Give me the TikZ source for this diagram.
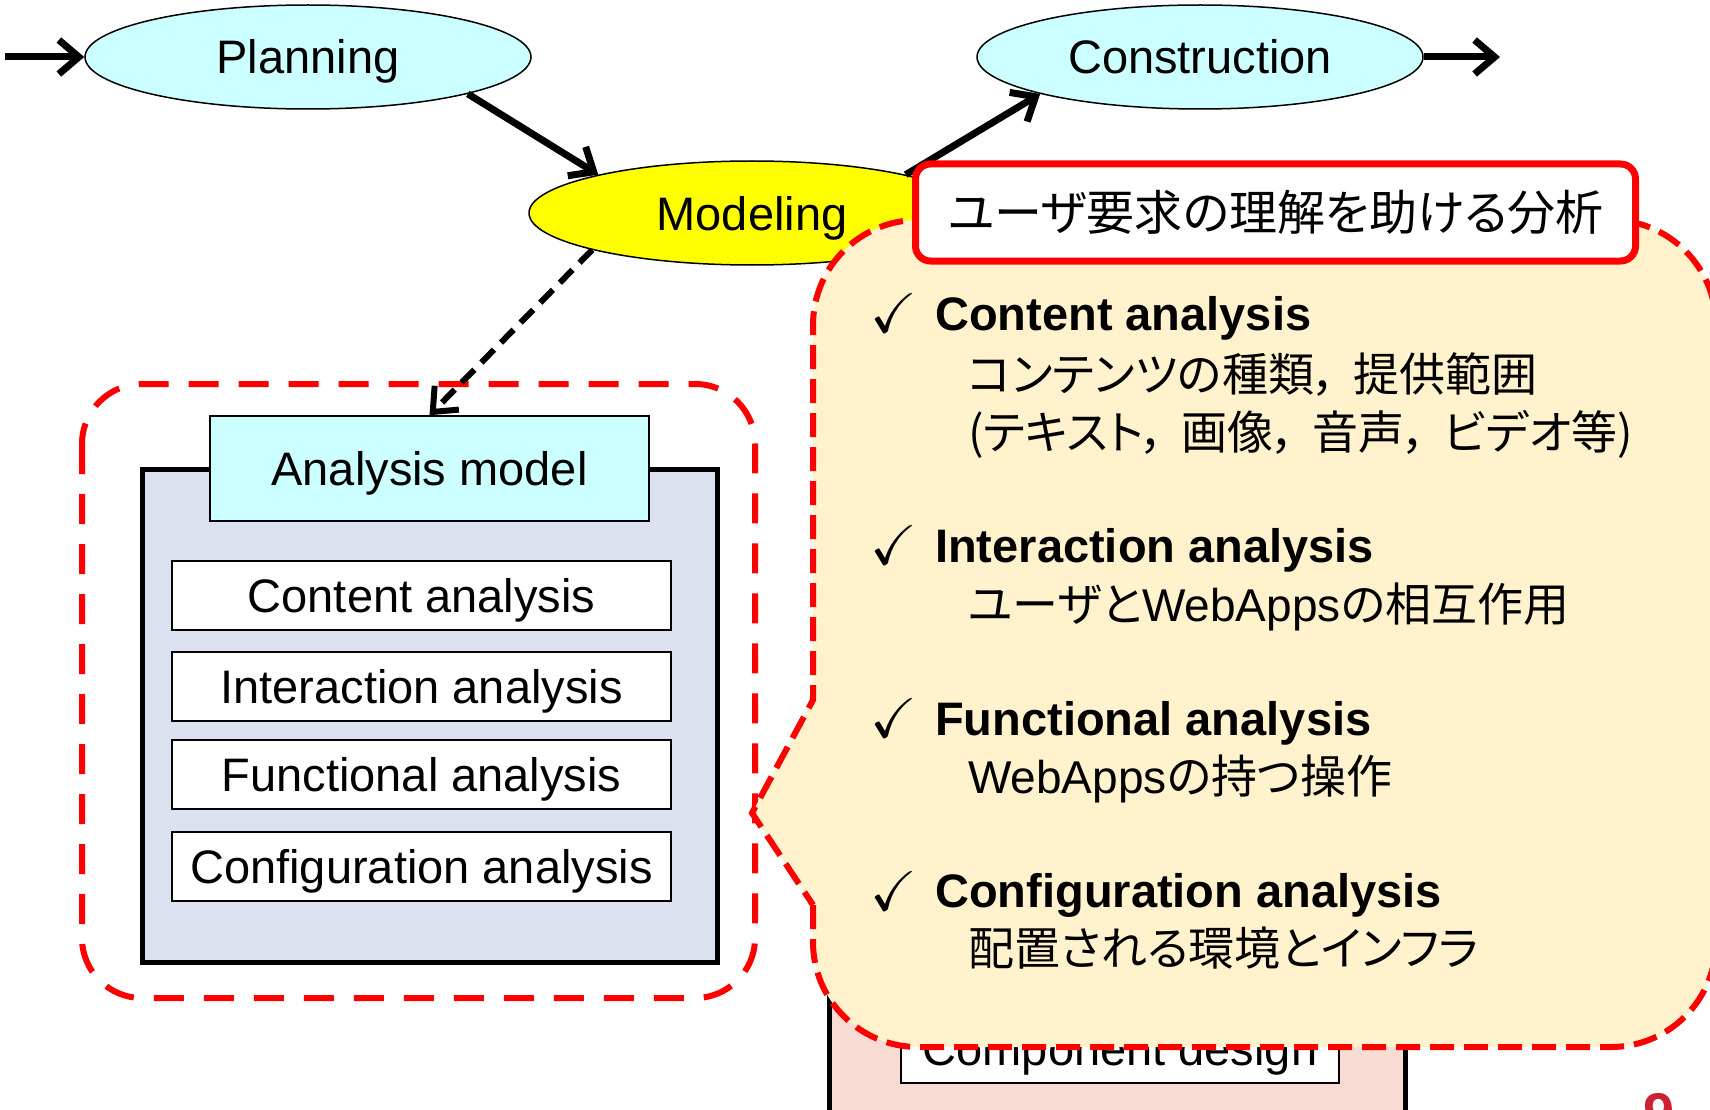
\documentclass[tikz,border=0pt]{standalone}
\usepackage{amssymb}
\usepackage{fontspec}
\setmainfont{Liberation Sans}
\newfontfamily\jpfont[RawFeature=+palt]{Noto Sans CJK JP}
\usetikzlibrary{shapes.geometric}
\usetikzlibrary{arrows.meta}
\definecolor{phasecyan}{RGB}{204,255,255}
\definecolor{modelyellow}{RGB}{255,255,0}
\definecolor{modelgray}{RGB}{220,225,240}
\definecolor{notecream}{RGB}{255,242,204}
\definecolor{designpink}{RGB}{248,220,211}
\definecolor{markred}{RGB}{255,0,0}
\definecolor{pagered}{RGB}{204,34,51}
\newcommand{\jpcomma}{，\hspace{0.35em}}
\tikzset{>={Straight Barb[length=20pt,width=34pt]}}
\tikzset{
  phase/.style={ellipse, draw, line width=1.5pt, minimum width=446pt, minimum height=104pt, inner sep=0pt, text height=34pt, text depth=0pt, font=\fontsize{47}{56}\selectfont},
  flow/.style={->, line width=7pt},
  dashflow/.style={->, line width=6pt, dash pattern=on 18pt off 10pt},
  groupline/.style={draw=markred, line width=6pt, dash pattern=on 30pt off 20pt, rounded corners=60pt},
  anbox/.style={draw, line width=5pt, fill=modelgray, minimum width=575pt, minimum height=493pt},
  headbox/.style={draw, line width=1.5pt, fill=phasecyan, minimum width=439pt, minimum height=105pt, inner sep=0pt, text height=34pt, text depth=0pt, font=\fontsize{47}{56}\selectfont},
  itembox/.style={draw, line width=2pt, fill=white, minimum width=499pt, minimum height=69pt, inner sep=0pt, text height=34pt, text depth=0pt, font=\fontsize{47}{56}\selectfont},
  designbox/.style={draw, line width=5pt, fill=designpink, minimum width=576pt, minimum height=450pt},
  noteline/.style={draw=markred, fill=notecream, line width=6pt, dash pattern=on 24pt off 10pt},
  titlebox/.style={draw=markred, fill=white, line width=7pt, rounded corners=15pt, minimum width=720pt, minimum height=97pt, font=\jpfont\fontsize{48}{56}\selectfont},
  tick/.style={inner sep=0pt, font=\fontsize{56}{60}\selectfont},
  heading/.style={anchor=base west, inner sep=0pt, font=\bfseries\fontsize{47}{54}\selectfont},
  detail/.style={anchor=base west, inner sep=0pt, font=\fontsize{46}{54}\selectfont},
  pagenum/.style={anchor=north, inner sep=0pt, text=pagered, font=\bfseries\fontsize{56}{60}\selectfont}
}
\begin{document}
\begin{tikzpicture}[x=1pt, y=-1pt]
  \useasboundingbox (0,0) rectangle (1710,1110);
  \clip (0,0) rectangle (1710,1110);
  \node[phase, fill=phasecyan] (planning) at (308,57) {Planning};
  \node[phase, fill=modelyellow] (modeling) at (752,213) {Modeling};
  \node[phase, fill=phasecyan] (construction) at (1200,57) {Construction};
  \coordinate (entry) at (5,57);
  \coordinate (exit) at (1500,57);
  \draw[flow] (entry) -- (planning.west);
  \draw[flow] (planning.-13) -- (modeling.166);
  \draw[flow] (modeling.14) -- (construction.193);
  \draw[flow] (construction.east) -- (exit);

  \draw[groupline] (82,384) rectangle (755,998);
  \node[anbox] (analysis) at (429.5,715.5) {};
  \node[headbox] (header) at (429.5,468.5) {Analysis model};
  \node[itembox] (content) at (421.5,595.5) {Content analysis};
  \node[itembox] (interaction) at (421.5,686.5) {Interaction analysis};
  \node[itembox] (functional) at (421.5,774) {Functional analysis};
  \node[itembox] (configuration) at (421.5,866.5) {Configuration analysis};
  \draw[dashflow] (modeling.193) -- (header.north);

  \node[designbox] (design) at (1117,925) {};
  \node[itembox, minimum width=438pt] (component) at (1120,1048) {Component design};

  \path[noteline] (813,905) -- (813,942)
    arc[start angle=180, end angle=270, radius=105pt] -- (1611,1047)
    arc[start angle=270, end angle=360, radius=105pt] -- (1716,325)
    arc[start angle=0, end angle=90, radius=105pt] -- (918,220)
    arc[start angle=90, end angle=180, radius=105pt] -- (813,700)
    -- (752,813) -- cycle;
  \node[titlebox] (title) at (1275.5,212.5) {ユーザ要求の理解を助ける分析};

  \node[tick] (tick1) at (894,313) {$\checkmark$};
  \node[heading] (head1) at (935,330) {Content analysis};
  \node[detail] (detail1) at (968,391) {\jpfont コンテンツの種類\jpcomma 提供範囲};
  \node[detail] (detail2) at (968,449) {\jpfont (テキスト\jpcomma 画像\jpcomma 音声\jpcomma ビデオ等)};
  \node[tick] (tick2) at (894,545) {$\checkmark$};
  \node[heading] (head2) at (935,562) {Interaction analysis};
  \node[detail] (detail3) at (968,621) {{\jpfont ユーザと}WebApps{\jpfont の相互作用}};
  \node[tick] (tick3) at (894,718) {$\checkmark$};
  \node[heading] (head3) at (935,735) {Functional analysis};
  \node[detail] (detail4) at (968,793) {WebApps{\jpfont の持つ操作}};
  \node[tick] (tick4) at (894,891) {$\checkmark$};
  \node[heading] (head4) at (935,907) {Configuration analysis};
  \node[detail] (detail5) at (968,965) {\jpfont 配置される環境とインフラ};

  \node[pagenum] (pageno) at (1659,1093) {9};
\end{tikzpicture}
\end{document}
